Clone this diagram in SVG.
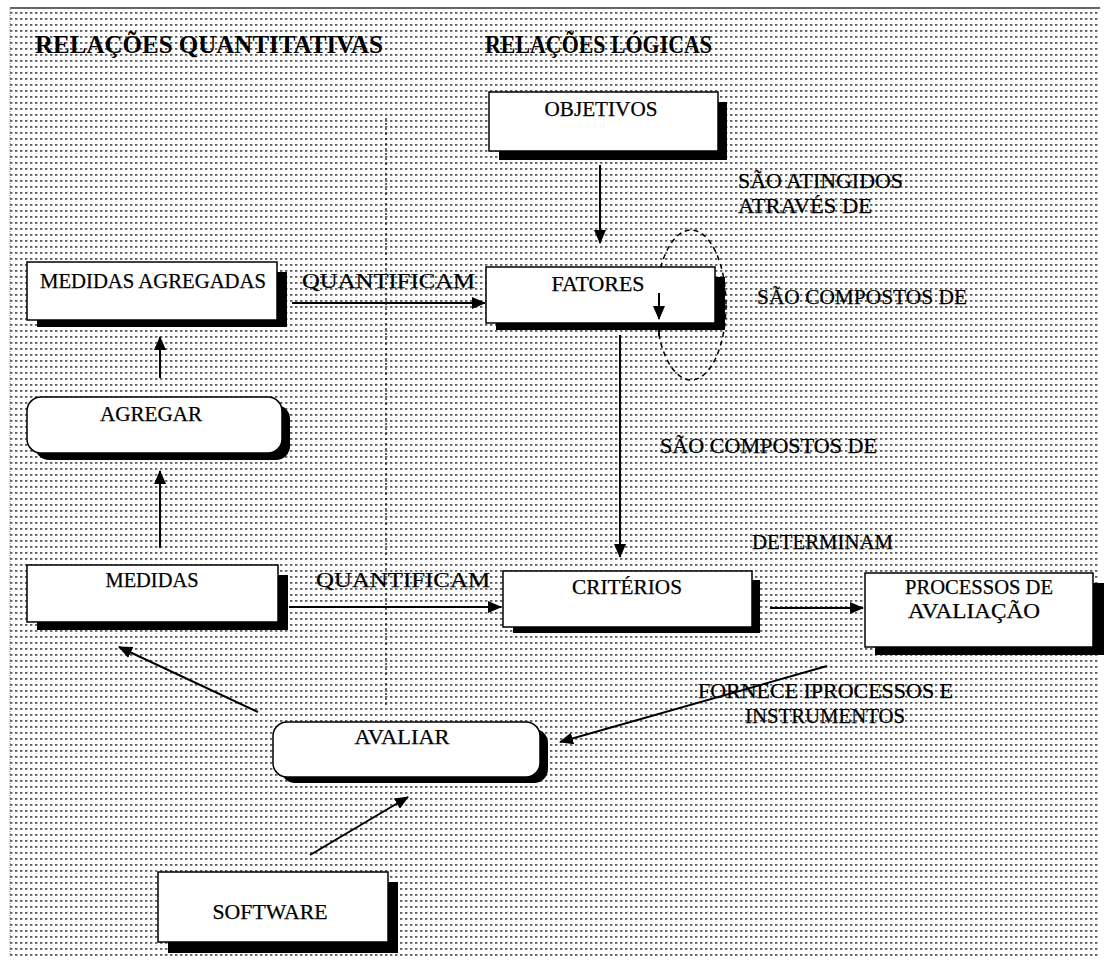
<svg xmlns="http://www.w3.org/2000/svg" width="1107" height="962" viewBox="0 0 1107 962">
<style>
.t{font-family:"Liberation Serif","Times New Roman",serif;font-size:21px;fill:#000;stroke:#000;stroke-width:0.25}
.h{font-family:"Liberation Serif","Times New Roman",serif;font-size:25px;font-weight:bold;fill:#000}
.box{fill:#fff;stroke:#000;stroke-width:1.5}
.sh{fill:#000}
.c{stroke:#000;stroke-width:2;fill:none}
</style>
<defs>
<pattern id="dots" x="0" y="0" width="5" height="6" patternUnits="userSpaceOnUse">
<rect x="0" y="0" width="2.4" height="1.8" fill="#5a5a5a"/>
</pattern>
<marker id="ah" markerUnits="userSpaceOnUse" markerWidth="14" markerHeight="12" refX="13" refY="6" orient="auto">
<path d="M0,0 L14,6 L0,12 Z" fill="#000"/>
</marker>
</defs>
<rect x="0" y="0" width="1107" height="962" fill="#fff"/>
<rect x="10" y="9" width="1090" height="948" fill="url(#dots)"/>
<line x1="10" y1="8" x2="1100" y2="8" stroke="#333" stroke-width="1.5"/>
<line x1="10" y1="9" x2="10" y2="957" stroke="#888" stroke-width="1" stroke-dasharray="1 1"/>

<text class="h" x="35" y="53" textLength="348" lengthAdjust="spacingAndGlyphs">RELAÇÕES QUANTITATIVAS</text>
<text class="h" x="485" y="53" textLength="227" lengthAdjust="spacingAndGlyphs">RELAÇÕES LÓGICAS</text>

<g id="connectors">
<line x1="386" y1="118" x2="386" y2="705" stroke="#000" stroke-width="1.2" stroke-dasharray="2 3"/>
<line class="c" x1="600" y1="165" x2="600" y2="243" marker-end="url(#ah)"/>
<line class="c" x1="292" y1="303" x2="485" y2="303" marker-end="url(#ah)"/>
<line class="c" x1="620" y1="335" x2="620" y2="557" marker-end="url(#ah)"/>
<line class="c" x1="289" y1="607" x2="501" y2="607" marker-end="url(#ah)"/>
<line class="c" x1="770" y1="608" x2="863" y2="608" marker-end="url(#ah)"/>
<line class="c" x1="827" y1="666" x2="560" y2="742" marker-end="url(#ah)"/>
<line class="c" x1="258" y1="712" x2="119" y2="647" marker-end="url(#ah)"/>
<line class="c" x1="310" y1="855" x2="408" y2="797" marker-end="url(#ah)"/>
<line class="c" x1="160" y1="378" x2="160" y2="337" marker-end="url(#ah)"/>
<line class="c" x1="160" y1="548" x2="160" y2="471" marker-end="url(#ah)"/>
<ellipse cx="691" cy="305" rx="35" ry="75" fill="none" stroke="#000" stroke-width="1.5" stroke-dasharray="5 4"/>
</g>

<g id="objetivos">
<rect class="sh" x="499" y="102" width="228" height="58"/>
<rect class="box" x="489" y="92" width="229" height="59"/>
<text class="t" x="601" y="116" text-anchor="middle" textLength="113" lengthAdjust="spacingAndGlyphs">OBJETIVOS</text>
</g>

<g id="fatores">
<rect class="sh" x="496" y="277" width="229" height="53"/>
<rect class="box" x="486" y="267" width="229" height="56"/>
<text class="t" x="598" y="291" text-anchor="middle" textLength="93" lengthAdjust="spacingAndGlyphs">FATORES</text>
<line class="c" x1="659" y1="293" x2="659" y2="319" marker-end="url(#ah)"/>
<line class="c" x1="659" y1="330" x2="659" y2="336"/>
</g>

<g id="medidas-agregadas">
<rect class="sh" x="37" y="272" width="250" height="55"/>
<rect class="box" x="27" y="262" width="250" height="58"/>
<text class="t" x="153" y="288" text-anchor="middle" textLength="226" lengthAdjust="spacingAndGlyphs">MEDIDAS AGREGADAS</text>
</g>

<g id="agregar">
<rect class="sh" x="35" y="405" width="255" height="55" rx="14"/>
<rect class="box" x="27" y="397" width="255" height="56" rx="14"/>
<text class="t" x="151" y="421" text-anchor="middle" textLength="102" lengthAdjust="spacingAndGlyphs">AGREGAR</text>
</g>

<g id="medidas">
<rect class="sh" x="37" y="575" width="251" height="55"/>
<rect class="box" x="27" y="565" width="251" height="57"/>
<text class="t" x="152" y="587" text-anchor="middle" textLength="93" lengthAdjust="spacingAndGlyphs">MEDIDAS</text>
</g>

<g id="criterios">
<rect class="sh" x="513" y="580" width="247" height="53"/>
<rect class="box" x="503" y="571" width="249" height="56"/>
<text class="t" x="627" y="594" text-anchor="middle" textLength="110" lengthAdjust="spacingAndGlyphs">CRITÉRIOS</text>
</g>

<g id="processos">
<rect class="sh" x="875" y="583" width="229" height="72"/>
<rect class="box" x="865" y="573" width="228" height="74"/>
<text class="t" x="979" y="594" text-anchor="middle" textLength="148" lengthAdjust="spacingAndGlyphs">PROCESSOS DE</text>
<text class="t" x="974" y="618" text-anchor="middle" textLength="132" lengthAdjust="spacingAndGlyphs">AVALIAÇÃO</text>
</g>

<g id="avaliar">
<rect class="sh" x="281" y="729" width="267" height="54" rx="14"/>
<rect class="box" x="273" y="722" width="267" height="55" rx="14"/>
<text class="t" x="402" y="744" text-anchor="middle" textLength="95" lengthAdjust="spacingAndGlyphs">AVALIAR</text>
</g>

<g id="software">
<rect class="sh" x="168" y="882" width="230" height="71"/>
<rect class="box" x="158" y="872" width="230" height="70"/>
<text class="t" x="270" y="919" text-anchor="middle" textLength="115" lengthAdjust="spacingAndGlyphs">SOFTWARE</text>
</g>

<g id="labels">
<text class="t" x="302" y="288" textLength="173" lengthAdjust="spacingAndGlyphs">QUANTIFICAM</text>
<text class="t" x="316" y="587" textLength="174" lengthAdjust="spacingAndGlyphs">QUANTIFICAM</text>
<text class="t" x="738" y="188" textLength="165" lengthAdjust="spacingAndGlyphs">SÃO ATINGIDOS</text>
<text class="t" x="738" y="213" textLength="134" lengthAdjust="spacingAndGlyphs">ATRAVÉS DE</text>
<text class="t" x="757" y="304" textLength="210" lengthAdjust="spacingAndGlyphs">SÃO COMPOSTOS DE</text>
<text class="t" x="660" y="453" textLength="217" lengthAdjust="spacingAndGlyphs">SÃO COMPOSTOS DE</text>
<text class="t" x="752" y="549" textLength="141" lengthAdjust="spacingAndGlyphs">DETERMINAM</text>
<text class="t" x="698" y="698" textLength="255" lengthAdjust="spacingAndGlyphs">FORNECE IPROCESSOS E</text>
<text class="t" x="745" y="723" textLength="160" lengthAdjust="spacingAndGlyphs">INSTRUMENTOS</text>
</g>
</svg>
